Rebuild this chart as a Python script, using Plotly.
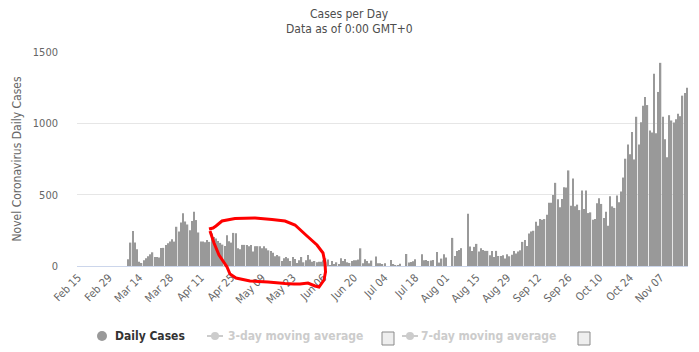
import pandas as pd
import plotly.graph_objects as go

# ---------------- data ----------------
start_date = "2020-03-09"
seg_mar_apr = [47,164,246,164,117,30,21,40,54,68,82,96,63,63,59,127,127,148,160,171,188,171,275,242,305,369,312,291,251,315,380]
seg_apr_may = [322,235,171,171,167,183,169,228,204,193,176,162,150,141,216,174,164,232,230,124,117,148,148,148,139,148,101,139,139,139,124,139,124,110,106,92,68,77,68]
seg_may_jun = [35,54,63,54,35,63,49,21,40,63,26,40,77,45,30,35,26,30,30,40,54]
seg_jun = [45,7,35,12,26,12,54,35,49,26,21,35,40,40,45]
seg_jun_aug = [124,19,47,35,19,38,0,66,19,19,12,19,0,0,42,10,7,7,16,0,0,84,24,28,33,47,0,0,82,40,42,35,38,42,0,99,24,52,82,59,0]
seg_aug_early = [0,197,70,106,113,125,0,0]
seg_aug_sep = [367,136,106,134,155,101,125,113,106,106,75,106,63,106,70,70,75,52,82,68,78,106,87,101,110,169,183,141,228,242,247,310,282,329,324,329,360,444,444,498,583,468,411,470,552,550,670]
seg_sep_nov = [423,613,418,430,392,529,400,529,371,376,324,329,439,475,435,336,381,282,489,418,407,494,447,522,620,752,851,783,940,747,1046,851,1008,1123,1184,1128,950,935,1347,930,1220,1424,1046,888,763,1057,1020,1006,1029,1067,1050,1194,1213,1250]

daily_cases = (seg_mar_apr + seg_apr_may + seg_may_jun + seg_jun + seg_jun_aug
               + seg_aug_early + seg_aug_sep + seg_sep_nov)
dates = pd.date_range(start_date, periods=len(daily_cases), freq="D")

title_text = "Cases per Day"
subtitle_text = "Data as of 0:00 GMT+0"
y_title = "Novel Coronavirus Daily Cases"
legend_labels = ["Daily Cases", "3-day moving average", "7-day moving average"]

# ---------------- layout helpers ----------------
W, H = 699, 352
L, R, T, B = 77, 688, 52, 266
FONT = "DejaVu Sans Condensed, DejaVu Sans, sans-serif"


def xp(x):
    return (x - L) / (R - L)


def yp(y):
    return (B - y) / (B - T)


fig = go.Figure()
fig.add_trace(go.Bar(x=dates, y=daily_cases, marker=dict(color="#999999", line=dict(width=0)),
                     name=legend_labels[0], showlegend=False))

shapes = []
annotations = []

# titles
annotations.append(dict(text=title_text, xref="paper", yref="paper", x=xp(349.5), y=yp(14),
                        showarrow=False, xanchor="center", yanchor="middle",
                        font=dict(family=FONT, size=12, color="#4d4d4d")))
annotations.append(dict(text=subtitle_text, xref="paper", yref="paper", x=xp(349.5), y=yp(29),
                        showarrow=False, xanchor="center", yanchor="middle",
                        font=dict(family=FONT, size=12, color="#4d4d4d")))

# red hand-drawn loop
loop_px = [(209, 229), (213, 228), (216, 226), (222, 221), (235, 218.5), (255, 218), (272, 219.5),
           (285, 221), (295, 225), (307, 236), (317, 245), (323, 253), (325, 263), (325.5, 272),
           (324, 280), (319, 287), (315, 286), (308, 283), (300, 284), (294, 284), (285, 283.5),
           (268, 282), (250, 281), (236, 278), (230, 274), (227, 267), (219, 255), (214, 243),
           (211, 234), (210, 231)]
path = "M " + " L ".join(f"{xp(x):.5f},{yp(y):.5f}" for x, y in loop_px)
shapes.append(dict(type="path", path=path, xref="paper", yref="paper",
                   line=dict(color="#ff0000", width=3)))

# custom legend
ly = 336
shapes.append(dict(type="circle", xref="paper", yref="paper",
                   x0=xp(97), x1=xp(107), y0=yp(ly - 5), y1=yp(ly + 5),
                   fillcolor="#999999", line=dict(width=0)))
annotations.append(dict(text="<b>" + legend_labels[0] + "</b>", xref="paper", yref="paper",
                        x=xp(113), y=yp(ly), xanchor="left", yanchor="middle", showarrow=False,
                        font=dict(family=FONT, size=12, color="#333333")))
for sx, tx, cx, lab in [(207, 226, 382, legend_labels[1]), (402, 419, 578, legend_labels[2])]:
    shapes.append(dict(type="line", xref="paper", yref="paper",
                       x0=xp(sx), x1=xp(sx + 16), y0=yp(ly), y1=yp(ly),
                       line=dict(color="#cccccc", width=2)))
    shapes.append(dict(type="circle", xref="paper", yref="paper",
                       x0=xp(sx + 4), x1=xp(sx + 12), y0=yp(ly - 4), y1=yp(ly + 4),
                       fillcolor="#cccccc", line=dict(width=0)))
    annotations.append(dict(text="<b>" + lab + "</b>", xref="paper", yref="paper",
                            x=xp(tx), y=yp(ly), xanchor="left", yanchor="middle", showarrow=False,
                            font=dict(family=FONT, size=12, color="#cccccc")))
    shapes.append(dict(type="rect", xref="paper", yref="paper",
                       x0=xp(cx), x1=xp(cx + 12), y0=yp(ly - 4), y1=yp(ly + 9),
                       fillcolor="#eeeeee", line=dict(color="#8a8a8a", width=1)))

fig.update_layout(
    width=W, height=H,
    margin=dict(l=L, r=W - R, t=T, b=H - B, pad=0),
    paper_bgcolor="white", plot_bgcolor="white",
    font=dict(family=FONT, size=11, color="#666666"),
    bargap=0.38,
    showlegend=False,
    shapes=shapes,
    annotations=annotations,
)
fig.update_xaxes(
    type="date",
    range=["2020-02-14 12:00", "2020-11-19 12:00"],
    tick0="2020-02-15", dtick=14 * 86400000,
    tickformat="%b %d", tickangle=-45,
    tickfont=dict(family=FONT, size=11, color="#666666"),
    showgrid=False, showline=True, linecolor="#ccd6eb", linewidth=1,
    ticks="", zeroline=False,
)
fig.update_yaxes(
    range=[0, 1500], dtick=500,
    showgrid=True, gridcolor="#e6e6e6", gridwidth=1,
    zeroline=False, showline=False,
    tickfont=dict(family=FONT, size=11, color="#666666"),
    ticklabelstandoff=18,
    title=dict(text=y_title, font=dict(family=FONT, size=12, color="#666666"), standoff=8),
)

fig.write_html("out.html")
